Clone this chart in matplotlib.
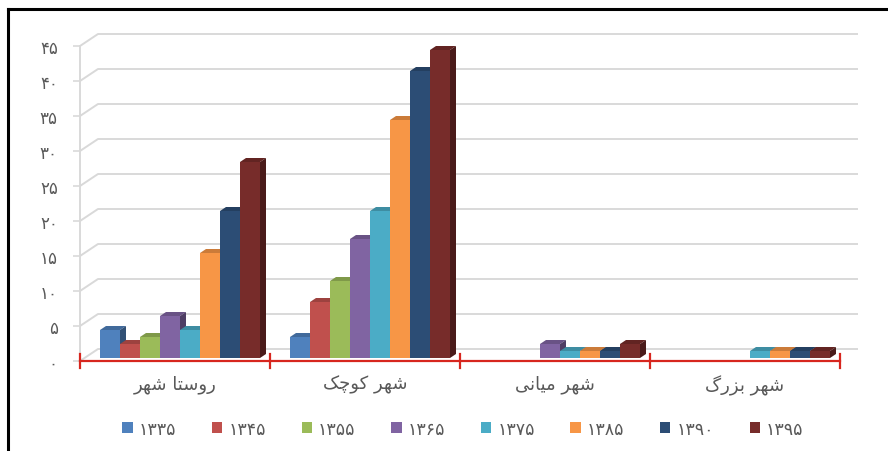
import matplotlib
matplotlib.use("Agg")
import matplotlib.pyplot as plt
from matplotlib.patches import Polygon, Patch
from matplotlib.lines import Line2D

# ---------------- data ----------------
categories = ["روستا شهر", "شهر کوچک", "شهر میانی", "شهر بزرگ"]
years = ["1335", "1345", "1355", "1365", "1375", "1385", "1390", "1395"]
values = {
    "1335": [4, 3, 0, 0],
    "1345": [2, 8, 0, 0],
    "1355": [3, 11, 0, 0],
    "1365": [6, 17, 2, 0],
    "1375": [4, 21, 1, 1],
    "1385": [15, 34, 1, 1],
    "1390": [21, 41, 1, 1],
    "1395": [28, 44, 2, 1],
}
y_ticks = list(range(0, 50, 5))
colors = ["#4F81BD", "#C0504D", "#9BBB59", "#8064A2",
          "#4BACC6", "#F79646", "#2C4D75", "#772C2A"]

# ---------------- helpers ----------------
FA_DIGITS = str.maketrans("0123456789", "۰۱۲۳۴۵۶۷۸۹")

def fa(s):
    return str(s).translate(FA_DIGITS)

FORMS = {  # isolated, final, initial, medial
    'ا': ('\uFE8D', '\uFE8E', None, None),
    'ب': ('\uFE8F', '\uFE90', '\uFE91', '\uFE92'),
    'ت': ('\uFE95', '\uFE96', '\uFE97', '\uFE98'),
    'ر': ('\uFEAD', '\uFEAE', None, None),
    'ز': ('\uFEAF', '\uFEB0', None, None),
    'س': ('\uFEB1', '\uFEB2', '\uFEB3', '\uFEB4'),
    'ش': ('\uFEB5', '\uFEB6', '\uFEB7', '\uFEB8'),
    'م': ('\uFEE1', '\uFEE2', '\uFEE3', '\uFEE4'),
    'ن': ('\uFEE5', '\uFEE6', '\uFEE7', '\uFEE8'),
    'ه': ('\uFEE9', '\uFEEA', '\uFEEB', '\uFEEC'),
    'و': ('\uFEED', '\uFEEE', None, None),
    'ی': ('\uFBFC', '\uFBFD', '\uFBFE', '\uFBFF'),
    'ک': ('\uFB8E', '\uFB8F', '\uFB90', '\uFB91'),
    'گ': ('\uFB92', '\uFB93', '\uFB94', '\uFB95'),
    'چ': ('\uFB7A', '\uFB7B', '\uFB7C', '\uFB7D'),
}
DUAL = set('بتسشمنهیکگچ')

def shape(text):
    out = []
    for i, c in enumerate(text):
        if c not in FORMS:
            out.append(c)
            continue
        prev = text[i - 1] if i > 0 else ''
        nxt = text[i + 1] if i + 1 < len(text) else ''
        jp = prev in DUAL
        jn = (c in DUAL) and (nxt in FORMS)
        f = FORMS[c]
        if jp and jn:
            g = f[3]
        elif jp:
            g = f[1]
        elif jn:
            g = f[2]
        else:
            g = f[0]
        out.append(g)
    return ''.join(reversed(out))

# ---------------- figure ----------------
W, H, DPI = 888, 452, 100
fig = plt.figure(figsize=(W / DPI, H / DPI), dpi=DPI)
plt.rcParams['font.family'] = ['DejaVu Sans']
ax_l, ax_r, ax_b, ax_t = 80, 840, 362, 47
ax = fig.add_axes([ax_l / W, (H - ax_b) / H, (ax_r - ax_l) / W, (ax_b - ax_t) / H])
ax.set_xlim(-0.5, len(categories) - 0.5)
ax.set_ylim(0, 45)

ppx = (ax_r - ax_l) / (len(categories))      # pixels per x unit
ppy = (ax_b - ax_t) / 45.0                   # pixels per y unit

grid_c = "#D9D9D9"
# back wall gridlines with slanted left-wall part
gdx, gdy = 18 / ppx, 12 / ppy
for v in y_ticks:
    ax.plot([-0.5, -0.5 + gdx, len(categories) - 0.5 + gdx], [v, v + gdy, v + gdy],
            color=grid_c, lw=1.4, clip_on=False, zorder=1, solid_capstyle='butt')
# left wall front edge
ax.plot([-0.5, -0.5], [0, 45], color=grid_c, lw=1.4, clip_on=False, zorder=1)

# bars
n = len(years)
bw = 20 / ppx
sx, sy = 5 / ppx, 3 / ppy     # bar shift into depth
ddx, ddy = 6 / ppx, 4 / ppy   # bar depth
def darker(c, f):
    c = matplotlib.colors.to_rgb(c)
    return tuple(x * f for x in c)

for gi in range(len(categories)):
    for si, yr in enumerate(years):
        v = values[yr][gi]
        if v <= 0:
            continue
        x0 = gi - n / 2 * bw + si * bw + sx
        x1 = x0 + bw
        b0 = sy
        t = v + sy
        col = colors[si]
        z = 3
        ax.add_patch(Polygon([(x0, b0), (x1, b0), (x1, t), (x0, t)], closed=True,
                             facecolor=col, edgecolor='none', zorder=z, clip_on=False))
        ax.add_patch(Polygon([(x0, t), (x1, t), (x1 + ddx, t + ddy), (x0 + ddx, t + ddy)],
                             closed=True, facecolor=darker(col, 0.82), edgecolor='none',
                             zorder=z, clip_on=False))
        ax.add_patch(Polygon([(x1, b0), (x1 + ddx, b0 + ddy), (x1 + ddx, t + ddy), (x1, t)],
                             closed=True, facecolor=darker(col, 0.62), edgecolor='none',
                             zorder=z, clip_on=False))

# red category axis
red = "#D7261E"
ax.plot([-0.5, len(categories) - 0.5], [0, 0], color=red, lw=1.6, clip_on=False, zorder=5)
tick_h = 7 / ppy
for b in range(len(categories) + 1):
    xb = b - 0.5
    ax.plot([xb, xb], [-tick_h, tick_h], color=red, lw=1.6, clip_on=False, zorder=5)

# axes styling
for s in ['top', 'right', 'bottom', 'left']:
    ax.spines[s].set_visible(False)
ax.set_yticks(y_ticks)
ax.set_yticklabels([fa(v) for v in y_ticks], color="#595959", fontsize=12)
ax.tick_params(axis='y', length=5, color=grid_c, width=1.2, pad=11)
ax.set_xticks(range(len(categories)))
ax.set_xticklabels([shape(c) for c in categories], color="#595959", fontsize=13)
ax.tick_params(axis='x', length=0, pad=10)
ax.patch.set_visible(False)

# legend
handles = [Patch(facecolor=c, edgecolor='none') for c in colors]
fig.legend(handles, [fa(y) for y in years], ncol=len(years), loc='center',
           bbox_to_anchor=(463 / W, 1 - 430 / H), frameon=False, fontsize=12.5,
           labelcolor="#595959", handlelength=0.6, handleheight=0.6,
           handletextpad=0.35, columnspacing=2.05)

# figure border (top and left)
fig.add_artist(Line2D([8 / W, 1.0], [1 - 10 / H, 1 - 10 / H], color='black', lw=2.2,
                      transform=fig.transFigure))
fig.add_artist(Line2D([8 / W, 8 / W], [0, 1 - 10 / H], color='black', lw=2.2,
                      transform=fig.transFigure))

fig.savefig("out.png", dpi=DPI)
